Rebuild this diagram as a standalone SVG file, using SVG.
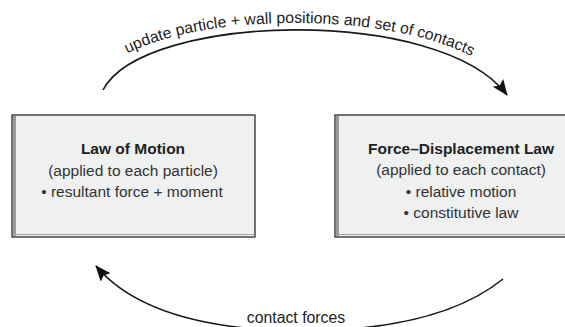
<svg xmlns="http://www.w3.org/2000/svg" width="565" height="327" viewBox="0 0 565 327">
  <style>
    .box { fill: #eff0f0; stroke: #2b2b2b; stroke-width: 1.3; }
    .shade { stroke: #9a9a9a; stroke-width: 3; fill: none; }
    .shadeb { stroke: #a8a8a8; stroke-width: 1; fill: none; }
    .title { font-family: "Liberation Sans", Arial, sans-serif; font-size: 15.5px; font-weight: bold; fill: #222; text-anchor: middle; }
    .txt { font-family: "Liberation Sans", Arial, sans-serif; font-size: 15.5px; fill: #333; text-anchor: middle; }
    .lbl { font-family: "Liberation Sans", Arial, sans-serif; font-size: 15.8px; fill: #222; }
    .conn { fill: none; stroke: #1a1a1a; stroke-width: 1.6; }
  </style>
  <defs>
    <marker id="arrow" markerUnits="userSpaceOnUse" markerWidth="18" markerHeight="14" refX="15" refY="6.5" orient="auto">
      <path d="M0,0 L16,6.5 L0,13 L3,6.5 z" fill="#111"/>
    </marker>
    <path id="topText" d="M94,82 C136,6 447,-2 513,89"/>
  </defs>
  <rect width="565" height="327" fill="#ffffff"/>

  <g id="node-law-of-motion">
    <rect class="box" x="12" y="115" width="243" height="122"/>
    <line class="shade" x1="14.5" y1="116" x2="14.5" y2="236"/>
    <line class="shadeb" x1="13" y1="234.5" x2="254" y2="234.5"/>
    <text class="title" x="133" y="154">Law of Motion</text>
    <text class="txt" x="133" y="176">(applied to each particle)</text>
    <text class="txt" x="132" y="197">• resultant force + moment</text>
  </g>

  <g id="node-force-displacement">
    <rect class="box" x="335" y="115" width="250" height="122"/>
    <line class="shade" x1="337.5" y1="116" x2="337.5" y2="236"/>
    <line class="shadeb" x1="336" y1="234.5" x2="584" y2="234.5"/>
    <text class="title" x="461" y="154">Force–Displacement Law</text>
    <text class="txt" x="461" y="175">(applied to each contact)</text>
    <text class="txt" x="461" y="197">• relative motion</text>
    <text class="txt" x="461" y="218">• constitutive law</text>
  </g>

  <g id="connectors">
    <path class="conn" d="M103,90 C143,13 440,5 507,95" marker-end="url(#arrow)"/>
    <text class="lbl"><textPath href="#topText" startOffset="49%" text-anchor="middle">update particle + wall positions and set of contacts</textPath></text>
    <path class="conn" d="M503,279 Q440,330 303,331 Q150,330 96,266" marker-end="url(#arrow)"/>
    <text class="lbl" x="296" y="323" text-anchor="middle">contact forces</text>
  </g>
</svg>
